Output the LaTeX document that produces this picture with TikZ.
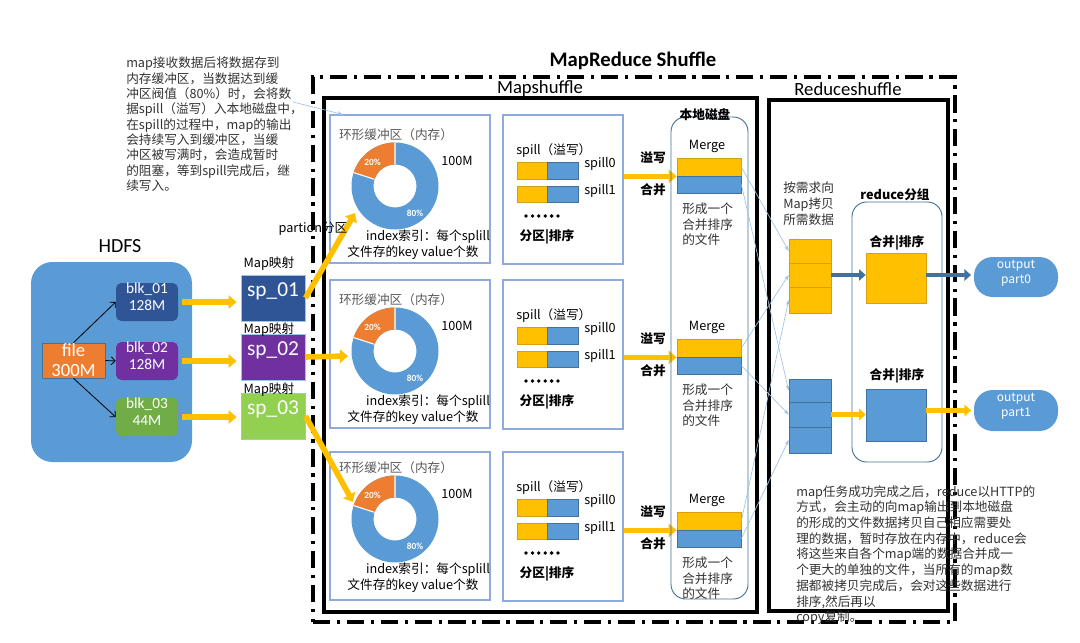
\documentclass[tikz,border=0pt]{standalone}
\usepackage{fontspec}
\setmainfont{Noto Sans CJK SC}
\newfontfamily\latfont{Carlito}
\usetikzlibrary{positioning,fit,arrows.meta}

\definecolor{cHdfs}{RGB}{91,155,213}
\definecolor{cBlkA}{RGB}{47,85,151}
\definecolor{cBlkB}{RGB}{112,48,160}
\definecolor{cBlkC}{RGB}{112,173,71}
\definecolor{cSpC}{RGB}{146,208,80}
\definecolor{cFile}{RGB}{237,125,49}
\definecolor{cYel}{RGB}{255,192,0}
\definecolor{cYelD}{RGB}{214,160,20}
\definecolor{cBlu}{RGB}{91,155,213}
\definecolor{cBluD}{RGB}{65,113,156}
\definecolor{cFrame}{RGB}{143,170,220}
\definecolor{cLink}{RGB}{157,195,230}
\definecolor{cTxt}{RGB}{50,50,50}

\begin{document}
\begin{tikzpicture}[
  x=0.75pt, y=-0.75pt,
  font=\fontsize{9.5}{11.5}\selectfont,
  txt/.style     = {inner sep=0pt, text=cTxt},
  btxt/.style    = {inner sep=0pt, font=\fontsize{9.5}{11.5}\selectfont\bfseries},
  bufbox/.style  = {draw=cFrame, line width=0.8pt, inner sep=0pt},
  rframe/.style  = {draw=cBluD, line width=0.7pt, rounded corners=11pt, inner sep=0pt},
  zone/.style    = {draw, line width=2.6pt, inner sep=0pt},
  dashdot/.style = {draw, line width=2.6pt, inner sep=0pt,
                    dash pattern=on 13pt off 5pt on 2.4pt off 5pt},
  blk/.style     = {rounded corners=4pt, inner sep=0pt, text=white, align=center,
                    font=\latfont\fontsize{11.5}{13}\selectfont},
  spx/.style     = {draw=cLink, line width=0.7pt, inner sep=0pt, text=white,
                    font=\latfont\fontsize{16}{18}\selectfont},
  ybar/.style    = {fill=cYel, draw=cYelD, line width=0.5pt, inner sep=0pt},
  bbar/.style    = {fill=cBlu, draw=cBluD, line width=0.5pt, inner sep=0pt},
  outp/.style    = {fill=cBlu, rounded corners=14pt, inner sep=0pt, text=white,
                    align=center, font=\fontsize{9}{11.3}\selectfont},
  pct/.style     = {text=white, font=\latfont\bfseries\fontsize{7}{8}\selectfont, inner sep=0pt},
  fat/.style     = {-{Triangle[length=6pt, width=10pt]}, line width=4.2pt, cYel},
  fatb/.style    = {-{Triangle[length=5pt, width=8.5pt]}, line width=3.2pt, cBluD},
  faty/.style    = {-{Triangle[length=5pt, width=8.5pt]}, line width=3.2pt, cYel},
  split/.style   = {-{Straight Barb[length=3pt]}, line width=0.6pt},
  link/.style    = {-{Stealth[length=4pt]}, line width=0.5pt, cLink}
]
\useasboundingbox (0,0) rectangle (1080,642);

% ------------------------------------------------------------ cornici --
\node[font=\latfont\bfseries\fontsize{15.5}{18}\selectfont] (ttl) at (633,61) {MapReduce Shuffle};
\node[dashdot, fit={(313,77)(955,622)}] (shuf) {};
\node[zone, fit={(324,98)(757,612)}]    (mapz) {};
\node[zone, fit={(769,100)(948,611)}]   (redz) {};
\node[font=\latfont\fontsize{14}{16}\selectfont] at (540,89) {Mapshuffle};
\node[font=\latfont\fontsize{14}{16}\selectfont] at (848,89) {Reduceshuffle};

% --------------------------------------------------------------- HDFS --
\node[fill=cHdfs, rounded corners=16pt, inner sep=0pt, fit={(31,262)(192,462)}] (hdfs) {};
\node[font=\latfont\fontsize{15}{17}\selectfont] at (120,246) {HDFS};
\node[fill=cFile, draw=cBluD, line width=0.5pt, inner sep=0pt, fit={(42,343)(105,378)}] (file) {};
\node[text=white, align=center, font=\latfont\fontsize{14}{15}\selectfont] at (file) {file\\300M};

\node[blk, fill=cBlkA, fit={(116,283)(178,321)}] (blk1) {blk\_01\\128M};
\node[blk, fill=cBlkB, fit={(116,342)(178,380)}] (blk2) {blk\_02\\128M};
\node[blk, fill=cBlkC, fit={(116,398)(178,436)}] (blk3) {blk\_03\\44M};

\draw[split] (file.north) -- (blk1.west);
\draw[split] (file.east)  -- (blk2.west);
\draw[split] (file.south) -- (blk3.west);

\node[spx, fill=cBlkA, fit={(241,275)(305,321)}] (sp1) {sp\_01};
\node[spx, fill=cBlkB, fit={(241,334)(305,380)}] (sp2) {sp\_02};
\node[spx, fill=cSpC,  fit={(241,393)(305,439)}] (sp3) {sp\_03};
\node[txt, text=black] at (269,264) {Map映射};
\node[txt, text=black] at (269,330) {Map映射};
\node[txt, text=black] at (269,390) {Map映射};

\foreach \i in {1,2,3}
  \draw[fat, shorten <=3pt, shorten >=3pt] (blk\i.east) -- (blk\i.east -| sp\i.west);

% ------------------------------------------------- le tre righe del map --
\foreach \r/\d/\c/\m in {1/0/0/0, 2/165/165/181, 3/337/333/354}{
  % buffer circolare
  \node[bufbox, fit={(330,115+\d)(490,263+\d)}] (buf\r) {};
  \node[txt, text=black!65] at (396,135+\c) {环形缓冲区（内存）};
  \begin{scope}[shift={(395,186+\c)}, y=0.75pt]
    \fill[cBlu, even odd rule] (0,0) circle (43.5) (0,0) circle (21.5);
    \fill[cFile] (90:43.5) arc (90:162:43.5) -- (162:21.5) arc (162:90:21.5) -- cycle;
    \draw[white, line width=0.8pt] (90:21.5) -- (90:43.5) (162:21.5) -- (162:43.5);
    \node[pct] at (133:33) {20\%};
    \node[pct] at (-54:34) {80\%};
  \end{scope}
  \node[txt, text=black] at (457,161+\c) {100M};
  \node[txt, text=black] at (428,237+\c) {index索引：每个splill};
  \node[txt, text=black] at (413,253+\c) {文件存的key value个数};
  % spill
  \node[bufbox, fit={(503,115+\d)(623,264+\d)}] (spl\r) {};
  \node[txt, text=black, anchor=west] at (516,151+\d) {spill（溢写）};
  \draw[ybar] (517,162+\d) rectangle (547,179+\d);
  \draw[bbar] (547,162+\d) rectangle (578,179+\d);
  \draw[ybar] (517,186+\d) rectangle (547,202+\d);
  \draw[bbar] (547,186+\d) rectangle (578,202+\d);
  \node[txt, text=black] at (600,164+\d) {spill0};
  \node[txt, text=black] at (600,191+\d) {spill1};
  \foreach \k in {0,...,5} \fill (526+6.4*\k,216+\d) circle (1.9);
  \node[btxt] at (547,237+\d) {分区|排序};
  % merge su disco
  \node[txt, text=black] at (707,146+\m) {Merge};
  \node[ybar, fit={(677,158+\m)(741,176+\m)}] (my\r) {};
  \node[bbar, fit={(677,176+\m)(741,193+\m)}] (mb\r) {};
  \node[txt, align=left, anchor=north west] at (682,203+\m) {形成一个\\合并排序\\的文件};
  \draw[fat] (spl\r.east |- my\r.south) -- (my\r.south west);
  \node[btxt] at (653,158+\m) {溢写};
  \node[btxt] at (653,190+\m) {合并};
}

% map -> buffer, con la partizione
\coordinate (tip1) at (355,213);
\coordinate (tip2) at (348,356);
\coordinate (tip3) at (353,502);
\draw[fat] (sp1.east) -- (tip1);
\draw[fat] (sp2.east) -- (tip2);
\draw[fat] (sp3.east) -- (tip3);
\node[txt, text=black] at (313,229) {partion分区};

\node[rframe, fit={(671,117)(748,599)}] (disk) {};
\node[btxt] at (705,115) {本地磁盘};

% ------------------------------------------------------------- nota map --
\node[txt, align=left, anchor=north west] (note) at (126,57) {%
  map接收数据后将数据存到\\
  内存缓冲区，当数据达到缓\\
  冲区阀值（80\%）时，会将数\\
  据spill（溢写）入本地磁盘中，\\
  在spill的过程中，map的输出\\
  会持续写入到缓冲区，当缓\\
  冲区被写满时，会造成暂时\\
  的阻塞，等到spill完成后，继\\
  续写入。};
\coordinate (noteTail) at (293,102);
\draw[link] (noteTail) -- ([xshift=10pt]buf1.north west);

% ------------------------------------------------------------- reduce --
\node[txt, align=left, anchor=north west, font=\fontsize{9.5}{12}\selectfont] at (783,182) {按需求向\\Map拷贝\\所需数据};
\node[ybar, fit={(789,239)(831,263)}] (ys1) {};
\node[ybar, fit={(789,263)(831,287)}] (ys2) {};
\node[ybar, fit={(789,287)(831,313)}] (ys3) {};
\node[bbar, fit={(789,379)(831,402)}] (bs1) {};
\node[bbar, fit={(789,402)(831,427)}] (bs2) {};
\node[bbar, fit={(789,427)(831,453)}] (bs3) {};

\foreach \i in {1,2,3}{
  \draw[link] (my\i.east) -- (ys\i.west);
  \draw[link] (mb\i.east) -- (bs\i.west);
}

\node[rframe, fit={(852,202)(942,462)}] (grp) {};
\node[btxt] at (895,195) {reduce分组};
\node[btxt] at (897,243) {合并|排序};
\node[ybar, fit={(866,253)(926,303)}] (ry) {};
\node[btxt] at (897,376) {合并|排序};
\node[bbar, fit={(866,389)(926,441)}] (rb) {};

\node[outp, fit={(974,257)(1058,297)}] (out0) {output\\part0};
\node[outp, fit={(974,390)(1058,431)}] (out1) {output\\part1};

\draw[fatb] (ys2.east) -- (ys2.east -| ry.west);
\draw[fatb, shorten >=2pt] (ry.east |- ys2.east) -- (ys2.east -| out0.west);
\draw[faty] (bs2.east) -- (bs2.east -| rb.west);
\draw[faty, shorten >=2pt] (rb.east |- out1.west) -- (out1.west);

% ---------------------------------------------------------- nota reduce --
\node[txt, align=left, anchor=north west, font=\fontsize{9.5}{11.8}\selectfont] (rnote) at (796,485) {%
  map任务成功完成之后，reduce以HTTP的\\
  方式，会主动的向map输出到本地磁盘\\
  的形成的文件数据拷贝自己相应需要处\\
  理的数据，暂时存放在内存中，reduce会\\
  将这些来自各个map端的数据合并成一\\
  个更大的单独的文件，当所有的map数\\
  据都被拷贝完成后，会对这些数据进行\\
  排序,然后再以\\
  copy复制。};

\end{tikzpicture}
\end{document}
